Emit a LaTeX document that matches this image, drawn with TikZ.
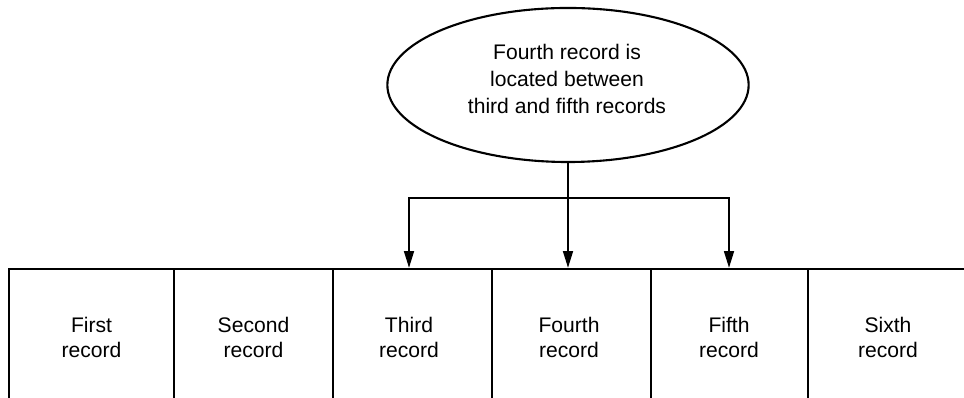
\documentclass[tikz,border=0pt]{standalone}
\usepackage{fontspec}
\setmainfont{Liberation Sans}
\usetikzlibrary{arrows.meta,shapes.geometric}

\tikzset{
  rec/.style={minimum width=3.98cm,minimum height=3.425cm,inner sep=0pt,align=center,
    font=\fontsize{15}{17.8}\selectfont},
  fact/.style={draw,ellipse,line width=1.5pt,minimum width=9.03cm,minimum height=3.85cm,inner sep=0pt},
  facttext/.style={align=center,inner sep=0pt,font=\fontsize{15}{19.5}\selectfont},
}

\begin{document}
\begin{tikzpicture}[x=.025cm,y=.025cm,>={Triangle[length=12pt,width=7pt]},line width=1.5pt]
\useasboundingbox (0,0) rectangle (964,398);
% the row of records, open at the bottom
\draw (9,0)--(9,129)--(964,129);
\foreach \x in {174,333,492,651,808} \draw (\x,0)--(\x,129);
\node[rec] (rec1) at (91.5,60.5){First\\record};
\node[rec] (rec2) at (253.5,60.5){Second\\record};
\node[rec] (rec3) at (409,60.5){Third\\record};
\node[rec] (rec4) at (569,60.5){Fourth\\record};
\node[rec] (rec5) at (729,60.5){Fifth\\record};
\node[rec] (rec6) at (888,60.5){Sixth\\record};
% the note and its three arrows
\node[fact] (note) at (568,313){};
\node[facttext] (notetext) at (567,319){Fourth record is\\located between\\third and fifth records};
\coordinate (split) at (569,200);
\draw[->] (note.south) -- (note.south |- rec4.north);
\draw[->] (split) -| (rec3.north);
\draw[->] (split) -| (rec5.north);
\end{tikzpicture}
\end{document}
